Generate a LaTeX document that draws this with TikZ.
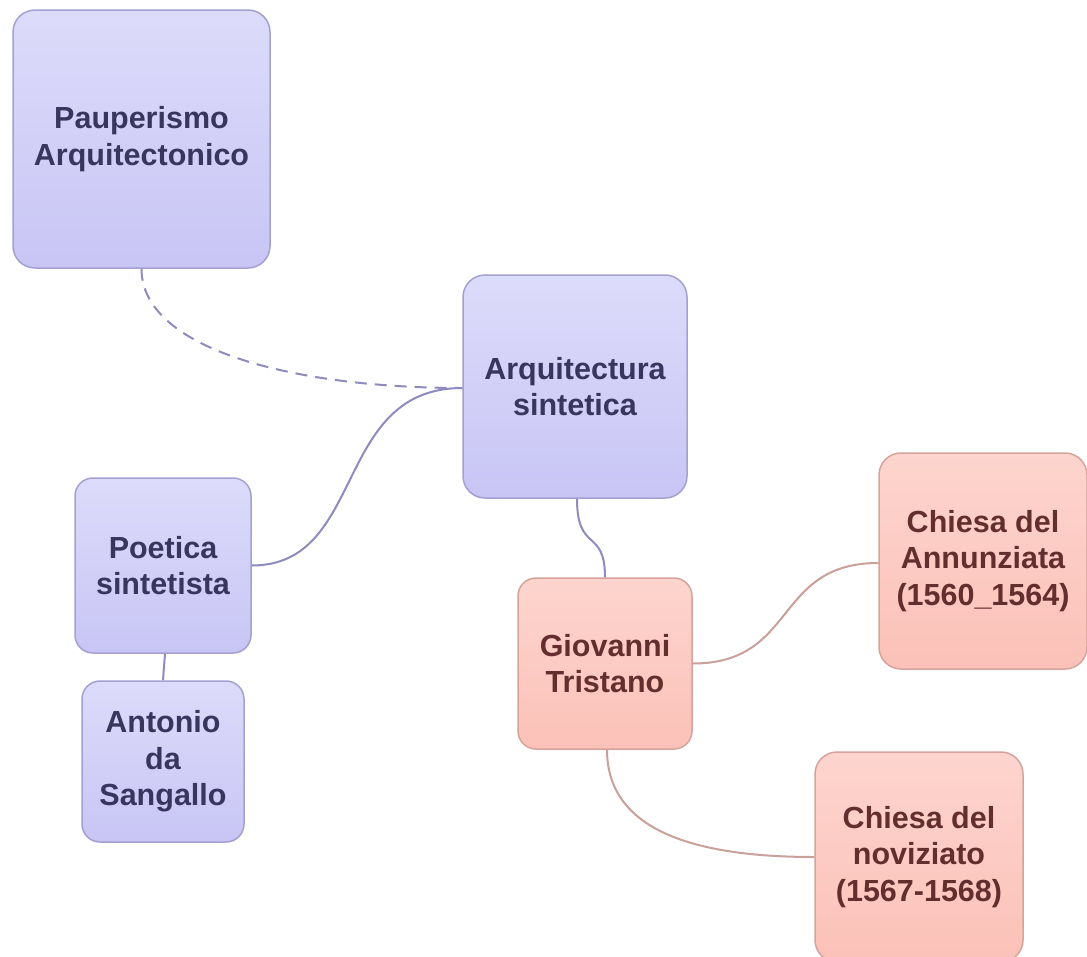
\documentclass[tikz,border=0pt]{standalone}
\usepackage{fontspec}
\setmainfont{Liberation Sans}
\definecolor{pTop}{HTML}{DDDBFA}
\definecolor{pBot}{HTML}{C8C5F5}
\definecolor{pLine}{HTML}{A4A1D2}
\definecolor{pText}{HTML}{38365F}
\definecolor{pConn}{HTML}{8E8BBE}
\definecolor{sTop}{HTML}{FDD5CE}
\definecolor{sBot}{HTML}{FBC1B8}
\definecolor{sLine}{HTML}{D5A39B}
\definecolor{sText}{HTML}{652E2E}
\definecolor{sConn}{HTML}{C9A09A}
\begin{document}
\begin{tikzpicture}[x=1pt,y=-1pt,
  box/.style={rectangle, rounded corners=22pt, line width=1.5pt, inner sep=0pt,
    align=center, font=\fontsize{30.5}{36.5}\selectfont\bfseries},
  pbox/.style={box, draw=pLine, top color=pTop, bottom color=pBot, text=pText},
  sbox/.style={box, draw=sLine, top color=sTop, bottom color=sBot, text=sText},
  pconn/.style={draw=pConn, line width=2pt},
  sconn/.style={draw=sConn, line width=2pt}]
\useasboundingbox (0,0) rectangle (1087,956);
\fill[white] (0,0) rectangle (1087,956);

\node[pbox, minimum width=257pt, minimum height=258pt] (P) at (141.5,139) {Pauperismo\\Arquitectonico};
\node[pbox, minimum width=224pt, minimum height=223pt] (A) at (575,386.5) {Arquitectura\\sintetica};
\node[pbox, minimum width=176pt, minimum height=175pt, rounded corners=18pt] (PS) at (163,565.5) {Poetica\\sintetista};
\node[pbox, minimum width=162pt, minimum height=161pt, rounded corners=18pt] (AS) at (163,761.5) {Antonio\\da\\Sangallo};
\node[sbox, minimum width=174pt, minimum height=171pt, rounded corners=18pt] (G) at (605,663.5) {Giovanni\\Tristano};
\node[sbox, minimum width=208pt, minimum height=216pt] (CA) at (983,561) {Chiesa del\\Annunziata\\(1560\_1564)};
\node[sbox, minimum width=208pt, minimum height=210pt] (CN) at (919,857) {Chiesa del\\noviziato\\(1567-1568)};

\coordinate (Aleft) at ([yshift=-1.5pt]A.west);
\draw[pconn, dashed, dash pattern=on 12pt off 8pt] (P.south) .. controls ([yshift=-80pt]P.south) and ([xshift=-170pt]Aleft) .. (Aleft);
\draw[pconn] (PS.east) .. controls ([xshift=115pt]PS.east) and ([xshift=-130pt]Aleft) .. (Aleft);
\draw[pconn] ([xshift=2pt]A.south) .. controls ([xshift=2pt,yshift=-55pt]A.south) and ([yshift=50pt]G.north) .. (G.north);
\draw[pconn] ([xshift=2pt]PS.south) -- (AS.north);
\draw[sconn] (G.east) .. controls ([xshift=105pt]G.east) and ([xshift=-105pt,yshift=-2pt]CA.west) .. ([yshift=-2pt]CA.west);
\draw[sconn] ([xshift=2pt]G.south) .. controls ([xshift=2pt,yshift=-85pt]G.south) and ([xshift=-110pt]CN.west) .. (CN.west);
\end{tikzpicture}
\end{document}
